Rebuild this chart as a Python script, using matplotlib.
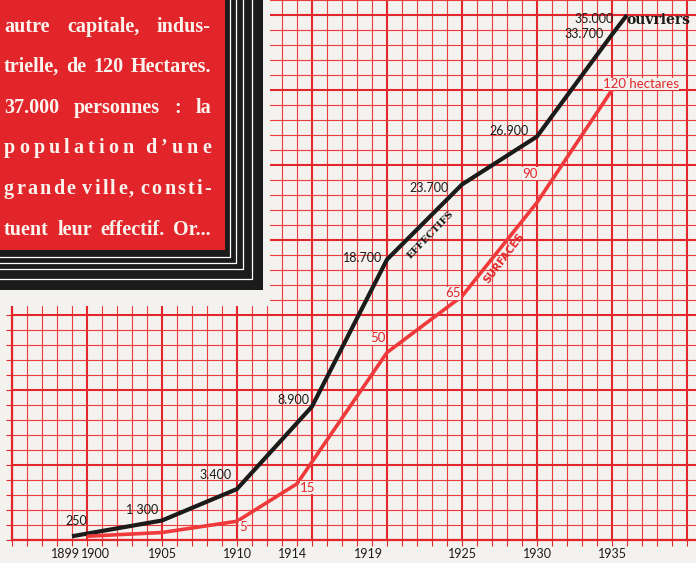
import numpy as np
import matplotlib
matplotlib.use('Agg')
import matplotlib.pyplot as plt
import matplotlib.transforms as mtransforms
from matplotlib.patches import Rectangle
from matplotlib.lines import Line2D
from matplotlib.ticker import MultipleLocator

# effectifs (ouvriers)
annees_effectifs = [1899, 1905, 1910, 1915, 1920, 1925, 1930, 1935, 1936]
effectifs = [250, 1300, 3400, 8900, 18700, 23700, 26900, 33700, 35000]
textes_effectifs = ['250', '1 300', '3.400', '8.900', '18.700', '23.700', '26.900', '33.700', '35.000']

# surfaces (hectares)
annees_surfaces = [1900, 1905, 1910, 1914, 1920, 1925, 1930, 1935]
surfaces = [1, 2, 5, 15, 50, 65, 90, 120]
textes_surfaces = ['', '', '5', '15', '50', '65', '90', '120 hectares']

# axe des années
annees_ticks = [1899, 1900, 1905, 1910, 1914, 1919, 1925, 1930, 1935]

# texte de l'encadré
lignes_encadre = [
    'autre capitale, indus-',
    'trielle, de 120 Hectares.',
    '37.000 personnes : la',
    'population d\u2019une',
    'grande ville, consti-',
    'tuent leur effectif. Or...',
]

# décalages des étiquettes (pixels)
decal_effectifs = [(4, 15), (-20, 10), (-21, 14), (-19, 7), (-24, 2), (-33, -3), (-28, 5), (-28, 1), (-33, -4)]
decal_surfaces = [(0, 0), (0, 0), (6, -6), (11, -4), (-9, 14), (-9, 3), (-7, 29), (-9, 6)]

W, H = 696, 563
papier = '#f4f2ee'
rouge_grille = '#ec3a3d'
rouge_fort = '#e3262c'
rouge_courbe = '#f0393b'
noir = '#1c1b1b'

fig = plt.figure(figsize=(W / 100, H / 100), dpi=100, facecolor=papier)
ax = fig.add_axes([12 / W, (H - 540) / H, 684 / W, 540 / H])
ax.set_facecolor(papier)
ax.set_xlim(1895, 1895 + 684 / 15)
ax.set_ylim(0, 36000)

# papier millimétré
for a in range(1895, 1941):
    majeur = a % 5 == 0
    ax.axvline(a, color=rouge_fort if majeur else rouge_grille,
               lw=1.5 if majeur else 0.8, zorder=1)
for v in range(0, 36001, 1000):
    majeur = v % 5000 == 0
    ax.axhline(v, color=rouge_fort if majeur else rouge_grille,
               lw=1.5 if majeur else 0.8, zorder=1)

for s in ['top', 'right']:
    ax.spines[s].set_visible(False)
for s in ['left', 'bottom']:
    ax.spines[s].set_color(rouge_fort)
    ax.spines[s].set_linewidth(1.6)

ax.set_xticks(annees_ticks, [str(a) for a in annees_ticks])
ax.xaxis.set_minor_locator(MultipleLocator(1))
ax.yaxis.set_major_locator(MultipleLocator(1000))
ax.set_yticklabels([])
ax.tick_params(axis='both', which='both', direction='out', length=4,
               width=0.8, color=rouge_fort, pad=2)
ax.tick_params(axis='x', labelsize=9, labelcolor=noir)
for lbl in ax.get_xticklabels():
    lbl.set_family('Lato')
decal_ticks = {'1899': -7, '1900': 8, '1914': -4, '1919': -4}
for lbl in ax.get_xticklabels():
    dx = decal_ticks.get(lbl.get_text(), 0)
    lbl.set_transform(lbl.get_transform() + mtransforms.ScaledTranslation(dx / 100, 0, fig.dpi_scale_trans))

# courbe des effectifs
ax.plot(annees_effectifs, effectifs, color=noir, lw=3.0, zorder=4, solid_capstyle='butt')
for a, v, t, (dx, dy) in zip(annees_effectifs, effectifs, textes_effectifs, decal_effectifs):
    ax.annotate(t, (a, v), xytext=(dx, dy), textcoords='offset pixels',
                ha='center', va='center', fontsize=9, family='Lato', color=noir, zorder=6)
ax.annotate('ouvriers', (1936, 35000), xytext=(31, -5), textcoords='offset pixels',
            ha='center', va='center', fontsize=10, family='DejaVu Serif',
            fontweight='bold', color=noir, zorder=6)
ax.text(1922.9, 36000 - 235 * 1000 / 15, 'EFFECTIFS', rotation=46, ha='center', va='center',
        fontsize=7, family='DejaVu Serif', fontweight='bold', color=noir, zorder=6)

# courbe des surfaces (échelle : 4 ha par carreau)
ax2 = ax.twinx()
ax2.set_ylim(0, 36000 / 250)
ax2.axis('off')
ax2.plot(annees_surfaces, surfaces, color=rouge_courbe, lw=2.6, zorder=4, solid_capstyle='butt')
for a, v, t, (dx, dy) in zip(annees_surfaces, surfaces, textes_surfaces, decal_surfaces):
    if not t:
        continue
    ha = 'left' if ' ' in t else 'center'
    ax2.annotate(t, (a, v), xytext=(dx, dy), textcoords='offset pixels',
                 ha=ha, va='center', fontsize=9.5, family='Lato', color=rouge_fort, zorder=6,
                 bbox=dict(fc=papier, ec='none', pad=0.3))
ax2.text(1927.8, 144 - 258 * 4 / 15, 'SURFACES', rotation=53, ha='center', va='center',
         fontsize=7.5, family='DejaVu Sans', fontweight='bold', color=rouge_fort, zorder=6)

# encadré
ident = mtransforms.IdentityTransform()
fig.add_artist(Rectangle((0, H - 306), 270, 306, fc=papier, ec='none', transform=ident, zorder=5))
fig.add_artist(Rectangle((0, H - 290), 263, 290, fc=noir, ec='none', transform=ident, zorder=5))
fig.add_artist(Rectangle((0, H - 250), 225, 250, fc='#e2252b', ec='none', transform=ident, zorder=5))
for xs, ys in [(230, 257), (236, 263), (243, 269), (252, 279)]:
    fig.add_artist(Line2D([xs, xs, 0], [H, H - ys, H - ys], color='white', lw=0.9,
                          transform=ident, zorder=5))

police = dict(family='Liberation Serif', fontweight='bold', color='#fbf3ee')
X0, X1 = 4, 211
rend = fig.canvas.get_renderer()

# taille commune pour que la ligne la plus longue tienne
essais = [fig.text(0, 0, l, fontsize=10, transform=ident, **police) for l in lignes_encadre]
plus_large = max(t.get_window_extent(rend).width for t in essais)
for t in essais:
    t.remove()
taille = min(17, 10 * (X1 - X0) / plus_large * 0.98)

bases = [32, 72, 113, 153, 194, 235]
par_lettre = [False, False, False, True, True, False]
for ligne, yb, pl in zip(lignes_encadre, bases, par_lettre):
    mots = ligne.split(' ')
    if pl:
        jetons, poids = [], []
        for i, mot in enumerate(mots):
            for j, c in enumerate(mot):
                jetons.append(c)
                if j < len(mot) - 1:
                    poids.append(1.0)
                elif i < len(mots) - 1:
                    poids.append(3.0)
    else:
        jetons = mots
        poids = [1.0] * (len(mots) - 1)
    objets = [fig.text(0, H - yb, j, fontsize=taille, transform=ident, ha='left',
                       va='baseline', zorder=6, **police) for j in jetons]
    largeurs = [t.get_window_extent(rend).width for t in objets]
    unite = ((X1 - X0) - sum(largeurs)) / max(sum(poids), 1)
    x = X0
    for k, t in enumerate(objets):
        t.set_x(x)
        x += largeurs[k] + (poids[k] * unite if k < len(poids) else 0)

fig.savefig('out.png', dpi=100, facecolor=papier)
